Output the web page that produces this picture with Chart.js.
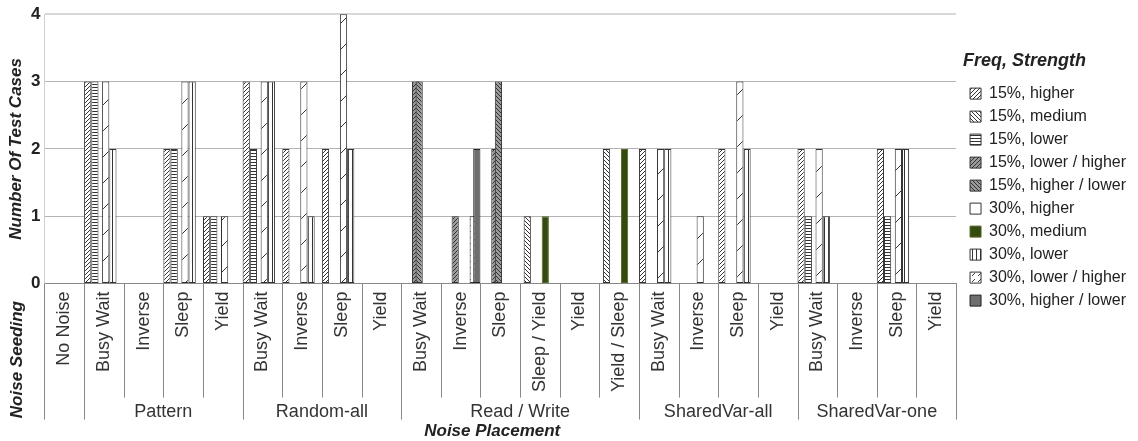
<!DOCTYPE html>
<html>
<head>
<meta charset="utf-8">
<script src="https://cdn.jsdelivr.net/npm/chart.js@4"></script>
<style>
    html, body { margin: 0; padding: 0; background: #fff; }
</style>
</head>
<body>
<canvas id="myChart" width="1138" height="441"></canvas>
<script>
// categories (noise seeding) and their groups (noise placement)
const seedings = ['No Noise',
    'Busy Wait', 'Inverse', 'Sleep', 'Yield',
    'Busy Wait', 'Inverse', 'Sleep', 'Yield',
    'Busy Wait', 'Inverse', 'Sleep', 'Sleep / Yield', 'Yield', 'Yield / Sleep',
    'Busy Wait', 'Inverse', 'Sleep', 'Yield',
    'Busy Wait', 'Inverse', 'Sleep', 'Yield'];
const placements = ['', 'Pattern', 'Random-all', 'Read / Write', 'SharedVar-all', 'SharedVar-one'];
const placementSizes = [1, 4, 4, 6, 4, 4];

const seriesNames = ['15%, higher', '15%, medium', '15%, lower', '15%, lower / higher', '15%, higher / lower',
    '30%, higher', '30%, medium', '30%, lower', '30%, lower / higher', '30%, higher / lower'];

const f15Higher      = [0, 3, 0, 2, 1, 3, 2, 2, 0, 0, 0, 0, 0, 0, 0, 2, 0, 2, 0, 2, 0, 2, 0];
const f15Medium      = [0, 0, 0, 0, 0, 0, 0, 0, 0, 0, 0, 0, 1, 0, 2, 0, 0, 0, 0, 0, 0, 0, 0];
const f15Lower       = [0, 3, 0, 2, 1, 2, 0, 0, 0, 0, 0, 0, 0, 0, 0, 0, 0, 0, 0, 1, 0, 1, 0];
const f15LowerHigher = [0, 0, 0, 0, 0, 0, 0, 0, 0, 3, 1, 2, 0, 0, 0, 0, 0, 0, 0, 0, 0, 0, 0];
const f15HigherLower = [0, 0, 0, 0, 0, 0, 0, 0, 0, 3, 0, 3, 0, 0, 0, 0, 0, 0, 0, 0, 0, 0, 0];
const f30Higher      = [0, 3, 0, 3, 1, 3, 3, 4, 0, 0, 0, 0, 0, 0, 0, 2, 1, 3, 0, 2, 0, 2, 0];
const f30Medium      = [0, 0, 0, 0, 0, 0, 0, 0, 0, 0, 0, 0, 1, 0, 2, 0, 0, 0, 0, 0, 0, 0, 0];
const f30Lower       = [0, 2, 0, 3, 0, 3, 1, 2, 0, 0, 0, 0, 0, 0, 0, 2, 0, 2, 0, 1, 0, 2, 0];
const f30LowerHigher = [0, 0, 0, 0, 0, 0, 0, 0, 0, 0, 1, 0, 0, 0, 0, 0, 0, 0, 0, 0, 0, 0, 0];
const f30HigherLower = [0, 0, 0, 0, 0, 0, 0, 0, 0, 0, 2, 0, 0, 0, 0, 0, 0, 0, 0, 0, 0, 0, 0];

const seriesValues = [f15Higher, f15Medium, f15Lower, f15LowerHigher, f15HigherLower,
    f30Higher, f30Medium, f30Lower, f30LowerHigher, f30HigherLower];

const ctx = document.getElementById('myChart').getContext('2d');

// hatch fills
function makePattern(size, bg, draw) {
    var c = document.createElement('canvas');
    c.width = size;
    c.height = size;
    var g = c.getContext('2d');
    g.fillStyle = bg;
    g.fillRect(0, 0, size, size);
    g.strokeStyle = '#333';
    g.fillStyle = '#333';
    g.lineWidth = 1;
    if (draw) draw(g, size);
    return ctx.createPattern(c, 'repeat');
}
function slash(g, s) {
    g.beginPath();
    g.moveTo(0, s); g.lineTo(s, 0);
    g.moveTo(-1, 1); g.lineTo(1, -1);
    g.moveTo(s - 1, s + 1); g.lineTo(s + 1, s - 1);
    g.stroke();
}
function backslash(g, s) {
    g.beginPath();
    g.moveTo(0, 0); g.lineTo(s, s);
    g.moveTo(s - 1, -1); g.lineTo(s + 1, 1);
    g.moveTo(-1, s - 1); g.lineTo(1, s + 1);
    g.stroke();
}
function dashedSlash(g, s) {
    g.strokeStyle = '#444';
    g.beginPath();
    g.moveTo(0, s); g.lineTo(s / 2, s / 2);
    g.stroke();
}

const fills = [
    makePattern(4, '#fff', slash),
    makePattern(4, '#fff', backslash),
    makePattern(3, '#fff', function (g, s) { g.fillRect(0, 0, s, 1); }),
    makePattern(4, '#9a9a9a', slash),
    makePattern(4, '#9a9a9a', backslash),
    makePattern(26, '#fff', slash),
    '#354a0e',
    makePattern(4, '#fff', function (g, s) { g.fillRect(0, 0, 1, s); }),
    makePattern(6, '#fff', dashedSlash),
    '#6e6e6e'
];
const borders = ['#333', '#333', '#333', '#333', '#333', '#333', '#56682a', '#333', '#333', '#222'];

// later series are painted over earlier ones
const drawOrderPlugin = {
    id: 'drawOrder',
    beforeDatasetsDraw: function (chart) {
        chart.getSortedVisibleDatasetMetas().forEach(function (meta) {
            meta.controller.draw();
        });
        return false;
    }
};

// two-level category axis below the plot
const groupAxisPlugin = {
    id: 'groupAxis',
    afterDraw: function (chart) {
        var x = chart.scales.x;
        var g = chart.ctx;
        var top = chart.chartArea.bottom;
        var edges = [0];
        placementSizes.forEach(function (n) { edges.push(edges[edges.length - 1] + n); });
        g.save();
        g.strokeStyle = '#888';
        g.lineWidth = 1;
        for (var i = 0; i <= seedings.length; i++) {
            var px = Math.round(x.getPixelForValue(i - 0.5)) + 0.5;
            var len = edges.indexOf(i) >= 0 ? 136 : 114;
            g.beginPath();
            g.moveTo(px, top);
            g.lineTo(px, top + len);
            g.stroke();
        }
        g.fillStyle = '#333';
        g.font = '18px "Liberation Sans", Arial, sans-serif';
        g.textAlign = 'center';
        g.textBaseline = 'middle';
        placements.forEach(function (name, k) {
            var a = x.getPixelForValue(edges[k] - 0.5);
            var b = x.getPixelForValue(edges[k + 1] - 0.5);
            g.fillText(name, (a + b) / 2, top + 128);
        });
        g.fillStyle = '#222';
        g.font = 'italic bold 17px "Liberation Sans", Arial, sans-serif';
        g.fillText('Noise Placement', (chart.chartArea.left + chart.chartArea.right) / 2 - 8, top + 148);
        g.translate(17, top + 76);
        g.rotate(-Math.PI / 2);
        g.fillText('Noise Seeding', 0, 0);
        g.restore();
    }
};

var datasets = seriesNames.map(function (name, i) {
    return {
        label: name,
        data: seriesValues[i].map(function (v) { return v === 0 ? null : v; }),
        backgroundColor: fills[i],
        borderColor: borders[i],
        borderWidth: 1,
        borderSkipped: false,
        barPercentage: 2,
        categoryPercentage: 0.909
    };
});

new Chart(ctx, {
    type: 'bar',
    data: {
        labels: seedings,
        datasets: datasets
    },
    options: {
        responsive: false,
        animation: false,
        layout: {
            padding: { left: 5, right: 2, top: 12, bottom: 41 }
        },
        plugins: {
            legend: {
                position: 'right',
                align: 'start',
                title: {
                    display: true,
                    text: 'Freq, Strength',
                    position: 'start',
                    color: '#222',
                    font: { family: '"Liberation Sans", Arial, sans-serif', size: 18, weight: 'bold', style: 'italic' },
                    padding: { top: 40, bottom: 5 }
                },
                labels: {
                    boxWidth: 11,
                    boxHeight: 11,
                    padding: 7,
                    color: '#222',
                    font: { family: '"Liberation Sans", Arial, sans-serif', size: 16 }
                }
            },
            tooltip: { enabled: false }
        },
        scales: {
            x: {
                grid: {
                    offset: true,
                    drawTicks: false,
                    color: function (c) { return c.index === seedings.length ? '#d0d0d0' : 'transparent'; }
                },
                border: { color: '#888' },
                ticks: {
                    autoSkip: false,
                    minRotation: 90,
                    maxRotation: 90,
                    padding: 8,
                    color: '#333',
                    font: { family: '"Liberation Sans", Arial, sans-serif', size: 18 }
                }
            },
            y: {
                min: 0,
                max: 4,
                grid: {
                    drawTicks: false,
                    color: function (c) { return c.tick && c.tick.value === 4 ? '#d8d8d8' : '#b3b3b3'; },
                    lineWidth: function (c) { return c.tick && c.tick.value === 4 ? 2 : 1; }
                },
                border: { color: '#d0d0d0' },
                ticks: {
                    stepSize: 1,
                    padding: 4,
                    color: '#222',
                    font: { family: '"Liberation Sans", Arial, sans-serif', size: 17, weight: 'bold' }
                },
                title: {
                    display: true,
                    text: 'Number Of Test Cases',
                    color: '#222',
                    font: { family: '"Liberation Sans", Arial, sans-serif', size: 17, weight: 'bold', style: 'italic', lineHeight: 1 },
                    padding: { top: 3, bottom: 2 }
                }
            },
            gap: {
                type: 'linear',
                position: 'right',
                grid: { display: false },
                ticks: { display: false },
                border: { display: false },
                afterFit: function (scale) { scale.width = 7; }
            }
        }
    },
    plugins: [drawOrderPlugin, groupAxisPlugin]
});
</script>
</body>
</html>
